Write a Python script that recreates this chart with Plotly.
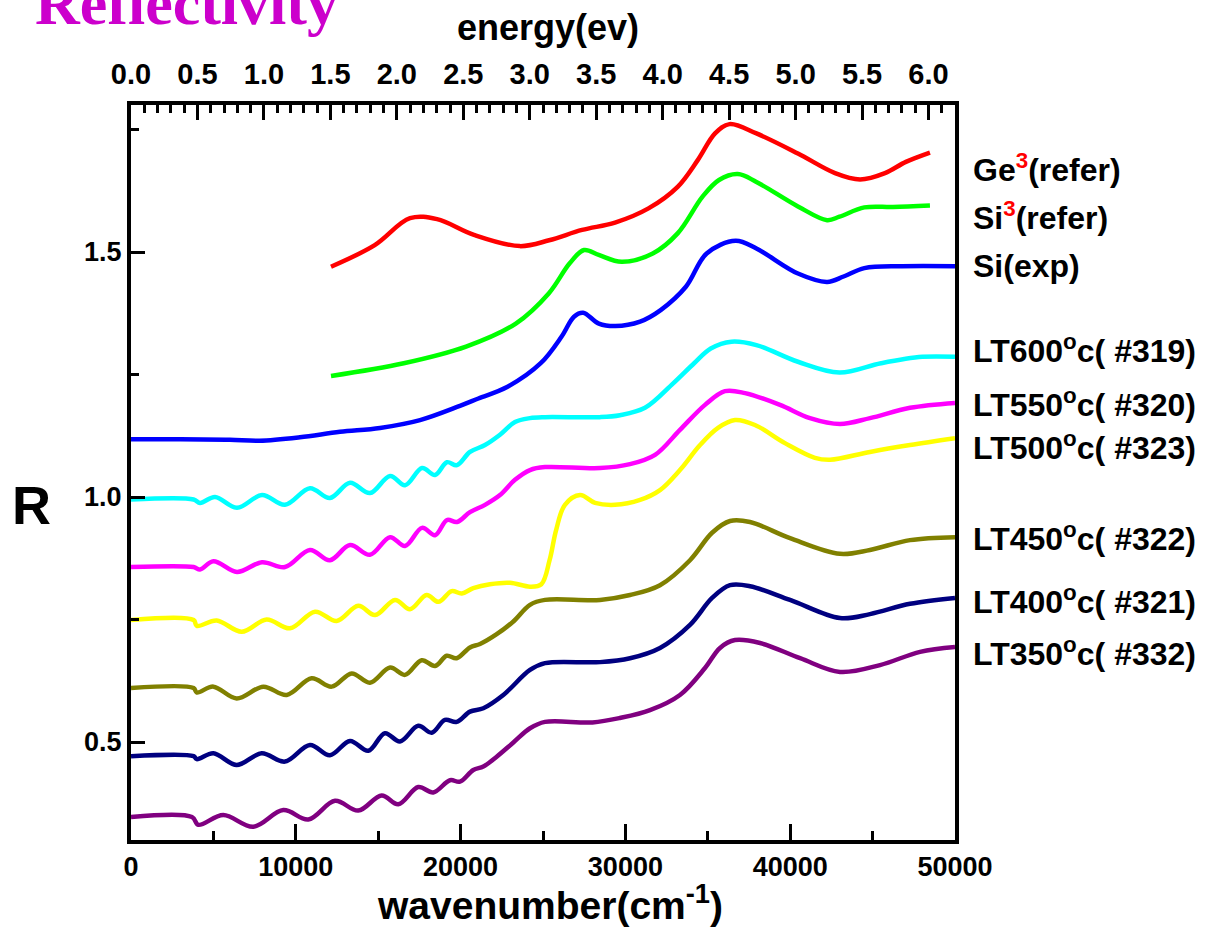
import plotly.graph_objects as go

# ---------------- data (wavenumber in cm^-1, reflectivity R, offset curves) ----------------
ge_x = [12136, 14790, 16930, 18570, 20810, 23600, 25370, 27370, 29370, 31400, 33170, 34400,
        35440, 36320, 37950, 40470, 42720, 44240, 45750, 47020, 48480]
ge_r = [1.470, 1.514, 1.569, 1.567, 1.535, 1.512, 1.524, 1.545, 1.560, 1.589, 1.633, 1.688,
        1.742, 1.761, 1.742, 1.701, 1.661, 1.648, 1.661, 1.684, 1.703]

si_ref_x = [12136, 16550, 20330, 23350, 25360, 26620, 27490, 28380, 29770, 31660, 33170, 34680,
            35680, 36820, 37950, 40470, 42240, 42990, 44500, 46240, 48480]
si_ref_r = [1.247, 1.273, 1.307, 1.354, 1.416, 1.477, 1.504, 1.494, 1.480, 1.497, 1.538, 1.613,
            1.647, 1.659, 1.643, 1.593, 1.565, 1.572, 1.591, 1.592, 1.595]

si_exp_x = [0, 3000, 6000, 7800, 10250, 12680, 15110, 17540, 19960, 21080, 22850, 24860, 26120,
            26880, 27430, 28390, 29390, 30890, 32160, 33670, 34930, 36690, 37950, 40470, 42240,
            43240, 44500, 46770, 50000]
si_exp_r = [1.118, 1.118, 1.117, 1.115, 1.122, 1.133, 1.141, 1.157, 1.186, 1.201, 1.225, 1.273, 1.327,
            1.368, 1.376, 1.354, 1.349, 1.358, 1.382, 1.429, 1.497, 1.523, 1.507, 1.456, 1.439,
            1.450, 1.467, 1.471, 1.471]

lt600_x = [0, 3800, 4190, 5100, 6430, 7950, 9340, 10860, 12070, 13290, 14500, 15720, 16630, 17660,
           18450, 19170, 19780, 20570, 21480, 22390, 23300, 24210, 25120, 28460, 29670, 31190,
           32900, 34170, 35180, 36440, 37950, 40470, 42990, 45510, 48020, 50000]
lt600_r = [0.995, 0.995, 0.988, 1.000, 0.978, 1.004, 0.984, 1.018, 0.998, 1.029, 1.008, 1.043, 1.024,
           1.059, 1.045, 1.071, 1.065, 1.092, 1.106, 1.127, 1.153, 1.161, 1.163, 1.163, 1.167, 1.182,
           1.232, 1.273, 1.303, 1.317, 1.310, 1.276, 1.254, 1.273, 1.286, 1.286]

lt550_x = [0, 3800, 4190, 5000, 6430, 7950, 9340, 10860, 12070, 13290, 14500, 15720, 16630, 17660,
           18450, 19170, 19780, 20570, 21480, 22390, 23300, 24210, 25120, 28460, 30280, 31800,
           33310, 34830, 36040, 37260, 39380, 41200, 43020, 44840, 47270, 50000]
lt550_r = [0.857, 0.857, 0.852, 0.869, 0.847, 0.867, 0.857, 0.892, 0.871, 0.902, 0.882, 0.918, 0.900,
           0.937, 0.922, 0.953, 0.949, 0.969, 0.984, 1.004, 1.035, 1.055, 1.061, 1.059, 1.067, 1.086,
           1.137, 1.188, 1.216, 1.212, 1.188, 1.161, 1.149, 1.161, 1.182, 1.192]

lt500_x = [0, 3800, 3990, 5200, 6720, 8230, 9650, 11170, 12480, 13790, 14810, 16020, 16930, 17940,
           18650, 19460, 20070, 20770, 21780, 23000, 24210, 24900, 25400, 25800, 26330, 27250,
           28160, 29370, 30890, 32100, 33310, 34530, 35620, 36650, 37860, 39680, 41500, 42420,
           44840, 47270, 50000]
lt500_r = [0.749, 0.749, 0.737, 0.748, 0.725, 0.750, 0.732, 0.766, 0.747, 0.778, 0.759, 0.790, 0.771,
           0.800, 0.786, 0.808, 0.803, 0.814, 0.822, 0.825, 0.817, 0.822, 0.871, 0.933, 0.984, 1.004,
           0.988, 0.984, 0.994, 1.014, 1.055, 1.106, 1.141, 1.157, 1.147, 1.110, 1.080, 1.076,
           1.092, 1.106, 1.120]

lt450_x = [0, 3800, 3990, 5000, 6410, 8030, 9450, 10960, 12180, 13390, 14500, 15720, 16630, 17640,
           18450, 19160, 19760, 20570, 21180, 22190, 23200, 24210, 25120, 28460, 30280, 32100,
           33920, 35260, 36350, 37560, 39990, 43020, 44840, 47270, 50000]
lt450_r = [0.610, 0.610, 0.601, 0.613, 0.589, 0.613, 0.596, 0.630, 0.613, 0.640, 0.621, 0.652, 0.637,
           0.667, 0.655, 0.676, 0.671, 0.693, 0.700, 0.720, 0.746, 0.780, 0.790, 0.790, 0.800, 0.820,
           0.871, 0.927, 0.951, 0.949, 0.916, 0.884, 0.892, 0.912, 0.918]

lt400_x = [0, 3800, 3990, 5000, 6410, 7930, 9340, 10860, 12070, 13290, 14400, 15410, 16320, 17430,
           18250, 19050, 19760, 20570, 21380, 22590, 24210, 25120, 28460, 30280, 32100, 33920,
           35260, 36350, 37560, 39990, 43020, 44840, 47270, 50000]
lt400_r = [0.471, 0.471, 0.465, 0.477, 0.453, 0.477, 0.460, 0.494, 0.473, 0.502, 0.482, 0.518, 0.501,
           0.533, 0.519, 0.545, 0.541, 0.562, 0.569, 0.596, 0.647, 0.661, 0.663, 0.671, 0.692, 0.739,
           0.794, 0.820, 0.818, 0.790, 0.753, 0.761, 0.782, 0.794]

lt350_x = [0, 3700, 4085, 5600, 7420, 9240, 10760, 12380, 13790, 15210, 16220, 17430, 18340, 19360,
           19960, 20770, 21380, 22190, 23200, 24210, 25120, 28000, 29670, 31490, 33310, 34830,
           35740, 36650, 38170, 40600, 43020, 45450, 47880, 50000]
lt350_r = [0.347, 0.347, 0.331, 0.351, 0.327, 0.361, 0.342, 0.380, 0.360, 0.391, 0.373, 0.408, 0.397,
           0.422, 0.419, 0.443, 0.450, 0.470, 0.499, 0.528, 0.541, 0.540, 0.549, 0.565, 0.596, 0.651,
           0.692, 0.708, 0.702, 0.671, 0.643, 0.657, 0.684, 0.694]

series_names = ["Ge(refer)", "Si(refer)", "Si(exp)", "LT600", "LT550", "LT500", "LT450", "LT400", "LT350"]
series_x = [ge_x, si_ref_x, si_exp_x, lt600_x, lt550_x, lt500_x, lt450_x, lt400_x, lt350_x]
series_r = [ge_r, si_ref_r, si_exp_r, lt600_r, lt550_r, lt500_r, lt450_r, lt400_r, lt350_r]
series_colors = ["#FF0000", "#00FF00", "#0000FF", "#00FFFF", "#FF00FF", "#FFFF00",
                 "#808000", "#000080", "#800080"]

label_texts = [
    "Ge<sup><span style='color:#FF0000'>3</span></sup>(refer)",
    "Si<sup><span style='color:#FF0000'>3</span></sup>(refer)",
    "Si(exp)",
    "LT600<sup>o</sup>c( #319)",
    "LT550<sup>o</sup>c( #320)",
    "LT500<sup>o</sup>c( #323)",
    "LT450<sup>o</sup>c( #322)",
    "LT400<sup>o</sup>c( #321)",
    "LT350<sup>o</sup>c( #332)",
]

x_ticks = [0, 10000, 20000, 30000, 40000, 50000]
ev_ticks = [0.0, 0.5, 1.0, 1.5, 2.0, 2.5, 3.0, 3.5, 4.0, 4.5, 5.0, 5.5, 6.0]
y_ticks = [0.5, 1.0, 1.5]
CM_PER_EV = 8065.54

# ---------------- figure ----------------
W, H = 1209, 934
L, R_, T, B = 131, 254, 105, 94
plot_h = H - T - B

def py2paper(py):
    return (H - B - py) / plot_h

FONT = "Arial, Liberation Sans, sans-serif"

fig = go.Figure()
for name, xs, rs, col in zip(series_names, series_x, series_r, series_colors):
    fig.add_trace(go.Scatter(x=xs, y=rs, mode="lines", name=name,
                             line=dict(color=col, width=4.5, shape="spline", smoothing=1.0),
                             showlegend=False))

# dummy trace for the energy axis
fig.add_trace(go.Scatter(x=[0, 50000 / CM_PER_EV], y=[1, 1], xaxis="x2", mode="markers",
                         marker=dict(opacity=0), showlegend=False, hoverinfo="skip"))

fig.update_layout(
    width=W, height=H,
    margin=dict(l=L, r=R_, t=T, b=B, autoexpand=False),
    plot_bgcolor="white", paper_bgcolor="white",
    xaxis=dict(range=[0, 50000], tickvals=x_ticks, tickformat="d",
               ticks="inside", ticklen=16, tickwidth=3, tickcolor="black",
               minor=dict(dtick=5000, tick0=0, ticks="inside", ticklen=9, tickwidth=3, tickcolor="black"),
               showline=True, linewidth=4, linecolor="black", mirror=True,
               showgrid=False, zeroline=False,
               tickfont=dict(family=FONT, size=27, color="black", weight="bold")),
    xaxis2=dict(range=[0, 50000 / CM_PER_EV], overlaying="x", side="top", anchor="y",
                tickvals=ev_ticks, tickformat=".1f",
                ticks="inside", ticklen=15, tickwidth=3, tickcolor="black",
                minor=dict(dtick=0.1, tick0=0, ticks="inside", ticklen=8, tickwidth=3, tickcolor="black"),
                showline=False, showgrid=False, zeroline=False, ticklabelstandoff=14,
                tickfont=dict(family=FONT, size=29, color="black", weight="bold")),
    yaxis=dict(range=[0.3, 1.8], tickvals=y_ticks, tickformat=".1f",
               ticks="inside", ticklen=14, tickwidth=3, tickcolor="black",
               minor=dict(dtick=0.25, tick0=0, ticks="inside", ticklen=8, tickwidth=3, tickcolor="black"),
               showline=True, linewidth=4, linecolor="black", mirror=True,
               showgrid=False, zeroline=False,
               tickfont=dict(family=FONT, size=27, color="black", weight="bold")),
)

label_y_px = [168, 216, 266, 349, 403, 446, 537, 600, 652]
for txt, py in zip(label_texts, label_y_px):
    fig.add_annotation(text=txt, xref="paper", yref="paper", x=(971 - L) / (W - L - R_), y=py2paper(py),
                       xanchor="left", yanchor="middle", showarrow=False,
                       font=dict(family=FONT, size=32, color="black", weight="bold"))

fig.add_annotation(text="energy(ev)", xref="paper", yref="paper", x=0.506, y=py2paper(27),
                   xanchor="center", yanchor="middle", showarrow=False,
                   font=dict(family=FONT, size=36, color="black", weight="bold"))
fig.add_annotation(text="wavenumber(cm<sup>-1</sup>)", xref="paper", yref="paper", x=0.5085,
                   y=py2paper(903), xanchor="center", yanchor="middle", showarrow=False,
                   font=dict(family=FONT, size=39, color="black", weight="bold"))
fig.add_annotation(text="R", xref="paper", yref="paper", x=(31 - L) / (W - L - R_), y=py2paper(505),
                   xanchor="center", yanchor="middle", showarrow=False,
                   font=dict(family=FONT, size=54, color="black", weight="bold"))
fig.add_annotation(text="Reflectivity", xref="paper", yref="paper", x=(33 - L) / (W - L - R_),
                   y=py2paper(3), xanchor="left", yanchor="middle", showarrow=False,
                   font=dict(family="Times New Roman, Liberation Serif, serif", size=62,
                             color="#CC00CC", weight="bold"))

fig.write_html("out.html")
